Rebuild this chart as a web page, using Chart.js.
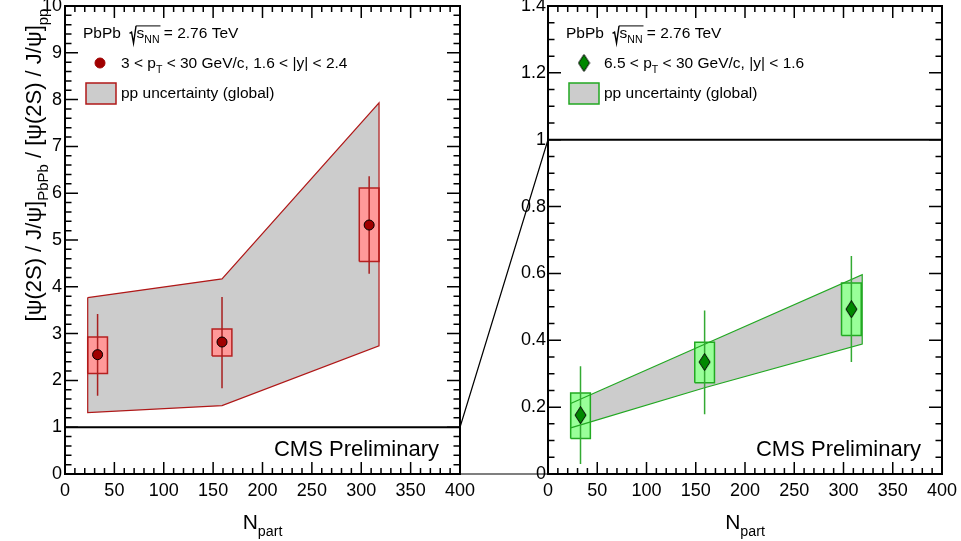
<!DOCTYPE html>
<html>
<head>
<meta charset="utf-8">
<script src="https://cdn.jsdelivr.net/npm/chart.js@4.4.1/dist/chart.umd.min.js"></script>
<style>
  body { margin: 0; background: #fff; }
  #wrap { position: relative; width: 961px; height: 541px; }
  canvas { position: absolute; top: 0; }
  #left { left: 0; }
  #right { left: 440px; }
</style>
</head>
<body>
<div id="wrap">
  <canvas id="left" width="480" height="541"></canvas>
  <canvas id="right" width="521" height="541"></canvas>
</div>
<script>
// N_part of the three centrality bins
const npart = [33, 159, 308];
const boxHalf = 10;

// forward: 3 < pT < 30 GeV/c, 1.6 < |y| < 2.4
const ratioFwd = [2.55, 2.82, 5.32];
const statLoFwd = [1.67, 1.83, 4.28];
const statHiFwd = [3.42, 3.78, 6.36];
const systLoFwd = [2.15, 2.52, 4.54];
const systHiFwd = [2.93, 3.10, 6.11];
const bandXFwd = [23, 159, 318];
const bandLoFwd = [1.31, 1.46, 2.74];
const bandHiFwd = [3.77, 4.17, 7.93];

// mid: 6.5 < pT < 30 GeV/c, |y| < 1.6
const ratioMid = [0.176, 0.335, 0.493];
const statLoMid = [0.030, 0.179, 0.335];
const statHiMid = [0.322, 0.489, 0.652];
const systLoMid = [0.106, 0.273, 0.414];
const systHiMid = [0.242, 0.394, 0.571];
const bandXMid = [23, 159, 319];
const bandLoMid = [0.138, 0.258, 0.389];
const bandHiMid = [0.211, 0.388, 0.596];

const FONT = '"Liberation Sans", Arial, Helvetica, sans-serif';
Chart.defaults.font.family = FONT;

// elongated ROOT style diamond
const diamond = document.createElement('canvas');
diamond.width = 13; diamond.height = 18;
(function () {
  const c = diamond.getContext('2d');
  c.beginPath();
  c.moveTo(6.5, 0.5); c.lineTo(12, 9); c.lineTo(6.5, 17.5); c.lineTo(1, 9); c.closePath();
  c.fillStyle = '#008800'; c.fill();
  c.strokeStyle = '#000'; c.lineWidth = 1; c.stroke();
})();

const redStyle = { band: '#b01818', box: '#ff9999', boxLine: '#b52020', err: '#a82020', marker: '#a00000', point: 'circle' };
const greenStyle = { band: '#22a822', box: '#99ff99', boxLine: '#22aa22', err: '#33aa33', marker: '#008800', point: diamond };

function buildDatasets(vals, sLo, sHi, yLo, yHi, bX, bLo, bHi, st) {
  const ds = [];
  const poly = bX.map((x, i) => ({ x, y: bHi[i] }));
  for (let i = bX.length - 1; i >= 0; i--) poly.push({ x: bX[i], y: bLo[i] });
  poly.push(poly[0]);
  // band fill (under the boxes) and its outline (over them)
  ds.push({ data: poly, showLine: true, fill: 'shape', backgroundColor: '#cccccc',
    borderColor: 'rgba(0,0,0,0)', borderWidth: 0, pointRadius: 0, order: 5 });
  ds.push({ data: poly, showLine: true, fill: false,
    borderColor: st.band, borderWidth: 1.2, pointRadius: 0, order: 2.5 });
  ds.push({ data: [{ x: 0, y: 1 }, { x: 400, y: 1 }], showLine: true, borderColor: '#000',
    borderWidth: 2, pointRadius: 0, order: 6 });
  npart.forEach((x, i) => {
    ds.push({
      data: [{ x: x - boxHalf, y: yLo[i] }, { x: x + boxHalf, y: yLo[i] }, { x: x + boxHalf, y: yHi[i] },
             { x: x - boxHalf, y: yHi[i] }, { x: x - boxHalf, y: yLo[i] }],
      showLine: true, fill: 'shape', backgroundColor: st.box, borderColor: st.boxLine,
      borderWidth: 1.5, pointRadius: 0, order: 3
    });
  });
  const err = [];
  npart.forEach((x, i) => { err.push({ x, y: sLo[i] }, { x, y: sHi[i] }, { x, y: null }); });
  ds.push({ data: err, showLine: true, spanGaps: false, borderColor: st.err, borderWidth: 1.5, pointRadius: 0, order: 2 });
  ds.push({ data: npart.map((x, i) => ({ x, y: vals[i] })), showLine: false, pointStyle: st.point,
    pointRadius: 5, backgroundColor: st.marker, borderColor: '#000', borderWidth: 1, order: 1 });
  return ds;
}

// draw text with subscripts / sqrt
function rich(ctx, x, y, segs, size) {
  let cx = x, rootStart = null;
  ctx.textAlign = 'left';
  ctx.textBaseline = 'alphabetic';
  for (const s of segs) {
    if (s.sqrt) {
      ctx.save();
      ctx.lineWidth = 1.4; ctx.strokeStyle = '#000';
      ctx.beginPath();
      ctx.moveTo(cx, y - 0.3 * size);
      ctx.lineTo(cx + 2, y - 0.38 * size);
      ctx.lineTo(cx + 4, y + 0.33 * size);
      ctx.lineTo(cx + 6.5, y - 0.78 * size);
      ctx.stroke();
      ctx.restore();
      rootStart = cx + 6.5;
      cx += 7;
      continue;
    }
    if (s.endSqrt) {
      ctx.save();
      ctx.lineWidth = 1; ctx.strokeStyle = '#000';
      ctx.beginPath(); ctx.moveTo(rootStart, y - 0.78 * size); ctx.lineTo(cx + 1, y - 0.78 * size); ctx.stroke();
      ctx.restore();
      continue;
    }
    const fs = s.sub ? size * 0.68 : size;
    ctx.font = fs + 'px ' + FONT;
    ctx.fillStyle = '#000';
    ctx.fillText(s.t, cx, y + (s.sub ? size * 0.33 : 0));
    cx += ctx.measureText(s.t).width;
  }
  return cx - x;
}

function measureRich(ctx, segs, size) {
  let w = 0;
  for (const s of segs) {
    if (s.sqrt) { w += 7; continue; }
    if (s.endSqrt) continue;
    ctx.font = (s.sub ? size * 0.68 : size) + 'px ' + FONT;
    w += ctx.measureText(s.t).width;
  }
  return w;
}

function drawFrame(chart, yMinor, yMajor) {
  const { ctx, chartArea: a, scales: { x, y } } = chart;
  ctx.save();
  ctx.strokeStyle = '#000';
  ctx.lineWidth = 1.5;
  ctx.beginPath();
  for (let i = 0; i <= 40; i++) {
    const v = i * 10;
    const px = x.getPixelForValue(v);
    const len = v % 50 === 0 ? 12 : 6;
    ctx.moveTo(px, a.bottom); ctx.lineTo(px, a.bottom - len);
    ctx.moveTo(px, a.top); ctx.lineTo(px, a.top + len);
  }
  const n = Math.round((y.max - y.min) / yMinor);
  for (let i = 0; i <= n; i++) {
    const v = y.min + i * yMinor;
    const py = y.getPixelForValue(v);
    const r = v / yMajor;
    const len = Math.abs(r - Math.round(r)) < 1e-6 ? 13 : 6.5;
    ctx.moveTo(a.left, py); ctx.lineTo(a.left + len, py);
    ctx.moveTo(a.right, py); ctx.lineTo(a.right - len, py);
  }
  ctx.stroke();
  ctx.lineWidth = 2;
  ctx.strokeRect(a.left, a.top, a.right - a.left, a.bottom - a.top);
  ctx.restore();
}

function drawDecor(chart, st, kinText) {
  const { ctx, chartArea: a } = chart;
  ctx.save();
  const size = 15.5;
  // energy line
  rich(ctx, a.left + 18, 38, [{ t: 'PbPb  ' }, { sqrt: true }, { t: 's' }, { t: 'NN', sub: true }, { endSqrt: true }, { t: ' = 2.76 TeV' }], size);
  // marker entry
  if (st.point === 'circle') {
    ctx.beginPath(); ctx.arc(a.left + 35, 63, 5, 0, Math.PI * 2);
    ctx.fillStyle = st.marker; ctx.fill();
    ctx.strokeStyle = st.marker; ctx.lineWidth = 1; ctx.stroke();
  } else {
    ctx.drawImage(diamond, a.left + 36 - diamond.width / 2, 63 - diamond.height / 2);
  }
  rich(ctx, a.left + 56, 68, kinText, size);
  // band entry
  ctx.fillStyle = '#cccccc';
  ctx.fillRect(a.left + 21, 83, 30, 21);
  ctx.strokeStyle = st.band; ctx.lineWidth = 1.5;
  ctx.strokeRect(a.left + 21, 83, 30, 21);
  rich(ctx, a.left + 56, 98, [{ t: 'pp uncertainty (global)' }], size);
  // CMS label
  ctx.font = '22px ' + FONT;
  ctx.fillStyle = '#000';
  ctx.textAlign = 'right';
  ctx.textBaseline = 'alphabetic';
  ctx.fillText('CMS Preliminary', a.right - 21, a.bottom - 18);
  // x title
  const xt = [{ t: 'N' }, { t: 'part', sub: true }];
  const w = measureRich(ctx, xt, 21);
  rich(ctx, (a.left + a.right) / 2 - w / 2, 529, xt, 21);
  ctx.restore();
}

function scaleX() {
  return {
    type: 'linear', min: 0, max: 400,
    ticks: { stepSize: 50, autoSkip: false, maxRotation: 0, padding: 6, color: '#000', font: { size: 18 } },
    grid: { display: false, drawTicks: false }, border: { display: false },
    afterFit(s) { s.height = 67; s.paddingLeft = 0; s.paddingRight = 0; }
  };
}

function scaleY(max, step, width, pad) {
  return {
    type: 'linear', min: 0, max: max,
    ticks: { stepSize: step, padding: pad, color: '#000', font: { size: 18 },
      callback: (v) => String(+v.toFixed(2)) },
    grid: { display: false, drawTicks: false }, border: { display: false },
    afterFit(s) { s.width = width; s.paddingTop = 0; s.paddingBottom = 0; }
  };
}

const leftChart = new Chart(document.getElementById('left'), {
  type: 'scatter',
  data: { datasets: buildDatasets(ratioFwd, statLoFwd, statHiFwd, systLoFwd, systHiFwd, bandXFwd, bandLoFwd, bandHiFwd, redStyle) },
  options: {
    responsive: false, animation: false, events: [],
    layout: { padding: { top: 4, right: 20, left: 0, bottom: 0 } },
    plugins: { legend: { display: false }, tooltip: { enabled: false } },
    scales: { x: scaleX(), y: scaleY(10, 1, 65, 3) }
  },
  plugins: [{
    id: 'rootLeft',
    afterDraw(chart) {
      drawFrame(chart, 0.2, 1);
      drawDecor(chart, redStyle, [{ t: '3 < p' }, { t: 'T', sub: true }, { t: ' < 30 GeV/c, 1.6 < |y| < 2.4' }]);
      const ctx = chart.ctx;
      ctx.save();
      const segs = [{ t: '[\u03C8(2S) / J/\u03C8]' }, { t: 'PbPb', sub: true }, { t: ' / [\u03C8(2S) / J/\u03C8]' }, { t: 'pp', sub: true }];
      const w = measureRich(ctx, segs, 22);
      ctx.translate(41, 165);
      ctx.rotate(-Math.PI / 2);
      rich(ctx, -w / 2, 0, segs, 22);
      ctx.restore();
    }
  }]
});

const rightChart = new Chart(document.getElementById('right'), {
  type: 'scatter',
  data: { datasets: buildDatasets(ratioMid, statLoMid, statHiMid, systLoMid, systHiMid, bandXMid, bandLoMid, bandHiMid, greenStyle) },
  options: {
    responsive: false, animation: false, events: [],
    layout: { padding: { top: 4, right: 19, left: 0, bottom: 0 } },
    plugins: { legend: { display: false }, tooltip: { enabled: false } },
    scales: { x: scaleX(), y: scaleY(1.4, 0.2, 108, 2) }
  },
  plugins: [{
    id: 'rootRight',
    afterDraw(chart) {
      drawFrame(chart, 0.05, 0.2);
      drawDecor(chart, greenStyle, [{ t: '6.5 < p' }, { t: 'T', sub: true }, { t: ' < 30 GeV/c, |y| < 1.6' }]);
      // zoom connectors from the left panel
      const ctx = chart.ctx;
      const off = 440;
      const lx = leftChart.scales.x.getPixelForValue(400) - off;
      const rx = chart.scales.x.getPixelForValue(0);
      ctx.save();
      ctx.strokeStyle = '#000'; ctx.lineWidth = 1.2;
      ctx.beginPath();
      ctx.moveTo(lx, leftChart.scales.y.getPixelForValue(1));
      ctx.lineTo(rx, chart.scales.y.getPixelForValue(1));
      ctx.moveTo(lx, leftChart.scales.y.getPixelForValue(0));
      ctx.lineTo(rx, chart.scales.y.getPixelForValue(0));
      ctx.stroke();
      ctx.restore();
    }
  }]
});
</script>
</body>
</html>
